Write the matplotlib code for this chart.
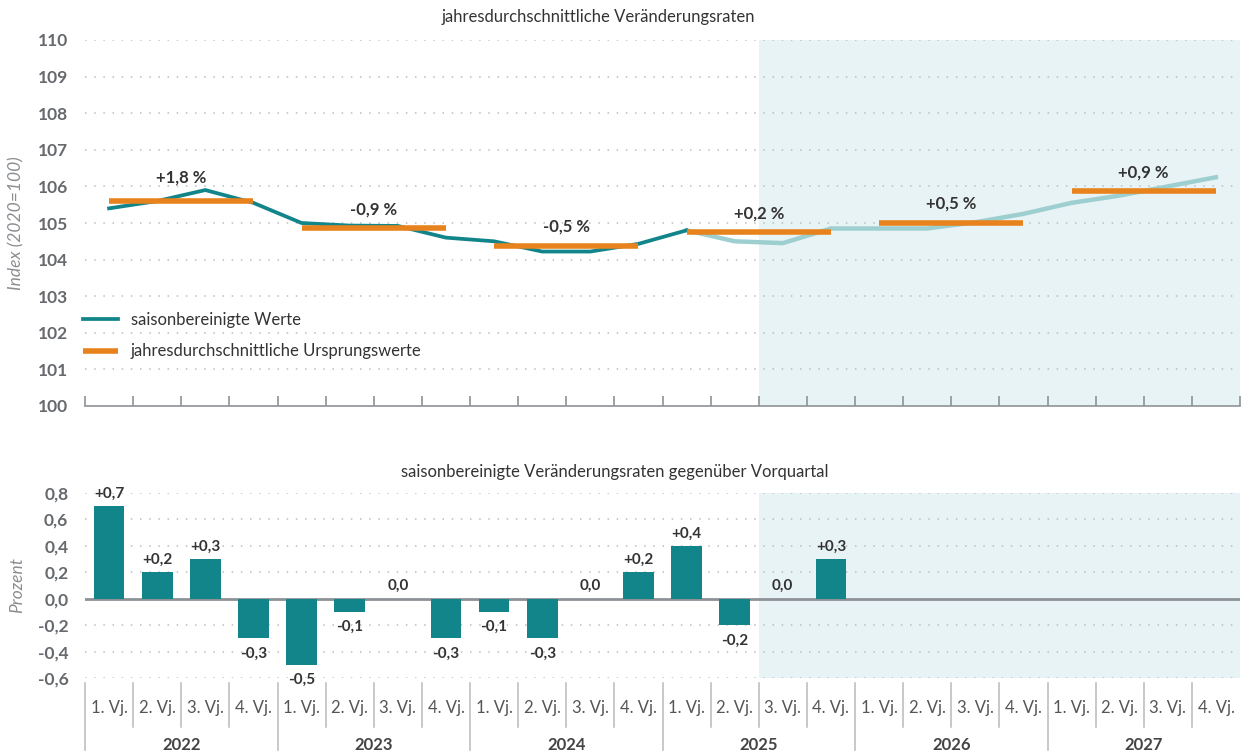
import numpy as np
import matplotlib
matplotlib.use('Agg')
from matplotlib import pyplot as plt
import matplotlib.transforms as mtransforms

plt.rcParams['font.family'] = ['Lato', 'DejaVu Sans']

# --- data -------------------------------------------------------------
years = ['2022', '2023', '2024', '2025', '2026', '2027']
quarter_names = ['1. Vj.', '2. Vj.', '3. Vj.', '4. Vj.']

# seasonally adjusted index, 2022 Q1 .. 2025 Q1 (observed)
index_actual = [105.4, 105.6, 105.9, 105.55, 105.0, 104.93, 104.92, 104.6,
                104.5, 104.22, 104.22, 104.43, 104.8]
# 2025 Q1 .. 2027 Q4 (projection)
index_forecast = [104.8, 104.5, 104.45, 104.85, 104.85, 104.85, 105.02, 105.25,
                  105.55, 105.75, 106.0, 106.25]
# annual averages of unadjusted values
annual_avg = [105.6, 104.85, 104.38, 104.75, 105.0, 105.87]
annual_rate = ['+1,8 %', '-0,9 %', '-0,5 %', '+0,2 %', '+0,5 %', '+0,9 %']

# quarter-on-quarter change, 2022 Q1 .. 2025 Q4
qoq = [0.7, 0.2, 0.3, -0.3, -0.5, -0.1, 0.0, -0.3,
       -0.1, -0.3, 0.0, 0.2, 0.4, -0.2, 0.0, 0.3]

forecast_start = 14  # 2025 Q3 shaded as projection

# --- style ------------------------------------------------------------
teal = '#12858b'
teal_light = '#9dcfd1'
orange = '#e8821c'
shade = '#e8f3f5'
gridc = '#b9bec2'
axisc = '#8d9297'
tickc = '#66696d'
textc = '#333333'

W, H = 1242, 754
fig = plt.figure(figsize=(W / 100, H / 100), dpi=100)
ax1 = fig.add_axes([85 / W, 1 - 406 / H, 1155 / W, 366 / H])
ax2 = fig.add_axes([85 / W, 1 - 678 / H, 1155 / W, 185 / H])

n = len(years) * 4
x = np.arange(n)

# ---------------- top chart ----------------
ax1.set_xlim(-0.5, n - 0.5)
ax1.set_ylim(100, 110)
ax1.axvspan(forecast_start - 0.5, n - 0.5, color=shade, lw=0, zorder=0)
for v in range(101, 111):
    ax1.axhline(v, color=gridc, lw=1.1, ls=(0, (1, 5)), zorder=1)

x_act = x[:len(index_actual)]
x_fc = x[len(index_actual) - 1:len(index_actual) - 1 + len(index_forecast)]
ax1.plot(x_fc, index_forecast, color=teal_light, lw=3.2, zorder=3,
         solid_joinstyle='miter')
ax1.plot(x_act, index_actual, color=teal, lw=2.7, zorder=4,
         solid_joinstyle='miter', label='saisonbereinigte Werte')
for i, v in enumerate(annual_avg):
    ax1.plot([4 * i, 4 * i + 3], [v, v], color=orange, lw=4, zorder=5,
             solid_capstyle='butt',
             label='jahresdurchschnittliche Ursprungswerte' if i == 0 else None)
    ax1.annotate(annual_rate[i], (4 * i + 1.5, v), xytext=(0, 8 if i else 11),
                 textcoords='offset points', ha='center', va='bottom',
                 fontsize=12, fontweight='bold', color=textc, zorder=6)

ax1.set_yticks(range(100, 111))
ax1.set_xticks(np.arange(-0.5, n, 1))
ax1.set_xticklabels([])
ax1.tick_params(axis='y', length=0, pad=12, labelsize=12.5, labelcolor=tickc)
ax1.tick_params(axis='x', direction='in', length=7, width=1.2, color=axisc)
for lbl in ax1.get_yticklabels():
    lbl.set_fontweight('bold')
for s in ['top', 'right', 'left']:
    ax1.spines[s].set_visible(False)
ax1.spines['bottom'].set_color(axisc)
ax1.spines['bottom'].set_linewidth(1.2)
ax1.set_ylabel('Index (2020=100)', fontsize=12.5, style='italic', color='#8a8e92')
ax1.yaxis.set_label_coords(-0.052, 0.5)
leg = ax1.legend(loc='upper left', bbox_to_anchor=(-0.002, 0.258), frameon=False,
                 borderaxespad=0, borderpad=0, handlelength=2.1, handletextpad=0.8,
                 labelspacing=0.95, fontsize=12)
for t in leg.get_texts():
    t.set_color(textc)
fig.text(598 / W, 1 - 17 / H, 'jahresdurchschnittliche Veränderungsraten',
         ha='center', va='center', fontsize=12, color=textc)

# ---------------- bottom chart ----------------
ax2.set_xlim(-0.5, n - 0.5)
ax2.set_ylim(-0.6, 0.8)
ax2.axvspan(forecast_start - 0.5, n - 0.5, color=shade, lw=0, zorder=0)
for v in [-0.6, -0.4, -0.2, 0.2, 0.4, 0.6, 0.8]:
    ax2.axhline(v, color=gridc, lw=1.1, ls=(0, (1, 5)), zorder=1)
ax2.axhline(0, color=axisc, lw=2, zorder=2)
xb = x[:len(qoq)]
ax2.bar(xb, qoq, width=0.64, color=teal, zorder=3)
for xi, v in zip(xb, qoq):
    txt = ('+' if v > 0 else '') + f'{v:.1f}'.replace('.', ',')
    if v < 0:
        ax2.annotate(txt, (xi, v), xytext=(0, -6), textcoords='offset points',
                     ha='center', va='top', fontsize=11, fontweight='bold', color=textc)
    else:
        ax2.annotate(txt, (xi, v), xytext=(0, 4), textcoords='offset points',
                     ha='center', va='bottom', fontsize=11, fontweight='bold', color=textc)

ax2.set_yticks([-0.6, -0.4, -0.2, 0.0, 0.2, 0.4, 0.6, 0.8])
ax2.set_yticklabels([f'{v:.1f}'.replace('.', ',') for v in ax2.get_yticks()])
ax2.set_xticks(x)
ax2.set_xticklabels(quarter_names * len(years))
ax2.tick_params(axis='y', length=0, pad=12, labelsize=12.5, labelcolor=tickc)
ax2.tick_params(axis='x', length=0, pad=16, labelsize=12, labelcolor='#555555')
for lbl in ax2.get_yticklabels():
    lbl.set_fontweight('bold')
for s in ax2.spines.values():
    s.set_visible(False)
ax2.set_ylabel('Prozent', fontsize=12.5, style='italic', color='#8a8e92')
ax2.yaxis.set_label_coords(-0.052, 0.5)

# quarter / year separators below the axis
trans = mtransforms.blended_transform_factory(ax2.transData, fig.transFigure)
for k in range(n):
    xs = k - 0.5
    y_end = 1 - 750 / H if k % 4 == 0 else 1 - 727 / H
    ax2.plot([xs, xs], [1 - 683 / H, y_end], transform=trans, color='#b5babe',
             lw=1.1, clip_on=False)
for i, yr in enumerate(years):
    ax2.text(4 * i + 1.5, 1 - 745 / H, yr, transform=trans, ha='center',
             va='center', fontsize=12, fontweight='bold', color='#444444')

fig.text(615 / W, 1 - 472 / H, 'saisonbereinigte Veränderungsraten gegenüber Vorquartal',
         ha='center', va='center', fontsize=12, color=textc)

fig.savefig('out.png', dpi=100)
